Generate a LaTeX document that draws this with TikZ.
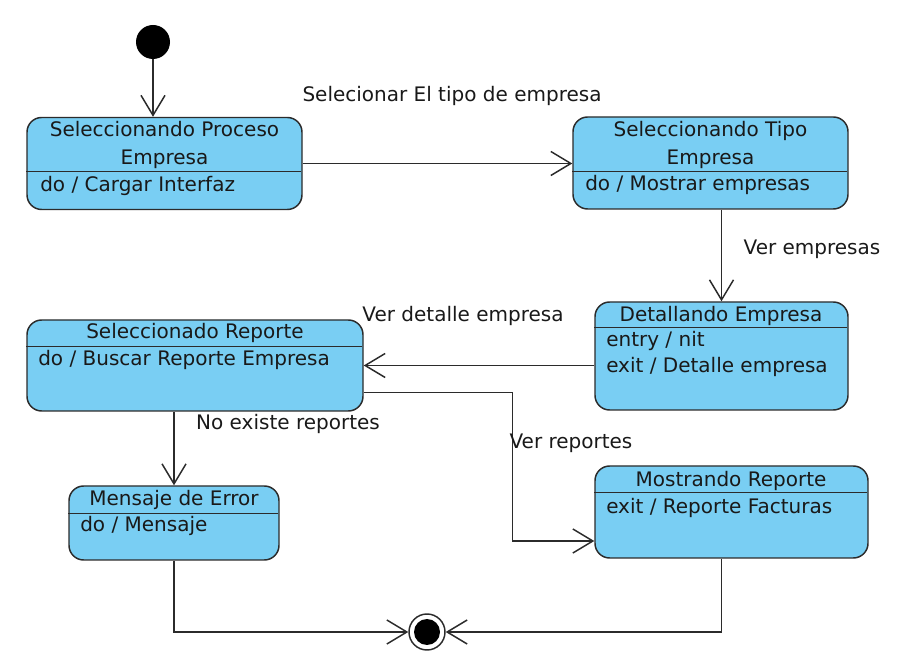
\documentclass[tikz,border=0pt]{standalone}
\usepackage{fontspec}
\setmainfont{DejaVu Sans}
\usetikzlibrary{arrows.meta,positioning,calc}
\definecolor{StateBlue}{HTML}{79CEF3}
\definecolor{EdgeGray}{HTML}{2B2B2B}

\begin{document}
\begin{tikzpicture}[x=0.75pt, y=-0.75pt,
    estado/.style={draw=EdgeGray, fill=StateBlue, line width=1.1pt, rounded corners=11pt, inner sep=0pt},
    titulo/.style={font=\fontsize{15}{21}\selectfont, align=center, inner sep=0pt, text=black!90},
    accion/.style={font=\fontsize{15}{19.5}\selectfont, align=left, anchor=west, inner sep=0pt, text=black!90},
    etiqueta/.style={font=\fontsize{15}{18}\selectfont, inner sep=0pt, text=black!90},
    trans/.style={-{Straight Barb[length=15pt, width=18pt]}, draw=EdgeGray, line width=1.1pt},
    linea/.style={draw=EdgeGray, line width=1.1pt}
  ]
    \useasboundingbox (0,0) rectangle (922,666);

    % estados
    \node[estado, minimum width=206.25pt, minimum height=69pt] (proceso) at (164.5,163.5) {};
    \node[estado, minimum width=206.25pt, minimum height=69pt] (tipo) at (710.5,163) {};
    \node[estado, minimum width=189.75pt, minimum height=81pt] (detalle) at (721.5,356) {};
    \node[estado, minimum width=252pt, minimum height=68.25pt] (reporte) at (195,365.5) {};
    \node[estado, minimum width=157.5pt, minimum height=55.5pt] (error) at (174,523) {};
    \node[estado, minimum width=204.75pt, minimum height=69pt] (mostrar) at (731.5,512) {};

    \draw[linea] (proceso.north west) ++(0,55) -- ++(275,0);
    \draw[linea] (tipo.north west) ++(0,55) -- ++(275,0);
    \draw[linea] (detalle.north west) ++(0,26) -- ++(253,0);
    \draw[linea] (reporte.north west) ++(0,27) -- ++(336,0);
    \draw[linea] (error.north west) ++(0,28) -- ++(210,0);
    \draw[linea] (mostrar.north west) ++(0,27) -- ++(273,0);

    \node[titulo] (procesoT) at (164.5,145) {Seleccionando Proceso\\Empresa};
    \node[accion] (procesoA) at (40,186) {do / Cargar Interfaz};
    \node[titulo] (tipoT) at (710.5,145) {Seleccionando Tipo\\Empresa};
    \node[accion] (tipoA) at (585,185) {do / Mostrar empresas};
    \node[titulo] (detalleT) at (721,316) {Detallando Empresa};
    \node[accion] (detalleA) at (606,354) {entry / nit\\exit / Detalle empresa};
    \node[titulo] (reporteT) at (195,333) {Seleccionado Reporte};
    \node[accion] (reporteA) at (38,360) {do / Buscar Reporte Empresa};
    \node[titulo] (errorT) at (174,500) {Mensaje de Error};
    \node[accion] (errorA) at (80,526) {do / Mensaje};
    \node[titulo] (mostrarT) at (731,481) {Mostrando Reporte};
    \node[accion] (mostrarA) at (606,508) {exit / Reporte Facturas};

    % inicio y fin
    \node[circle, fill=black, minimum size=25.5pt, inner sep=0pt] (inicio) at (153,42) {};
    \node[circle, draw=EdgeGray, fill=white, line width=1.1pt, minimum size=27pt, inner sep=0pt] (final) at (427,632) {};
    \fill[black] (final) circle[radius=9.75pt];

    % transiciones
    \draw[trans] (inicio) -- (inicio |- proceso.north);
    \draw[trans] (proceso.east) -- (proceso.east -| tipo.west);
    \draw[trans] (tipo.south -| detalle.north) -- (detalle.north);
    \draw[trans] (detalle.west |- reporte.east) -- (reporte.east);
    \draw[trans] (reporte.south -| error.north) -- (error.north);
    \draw[trans] ([yshift=-20.25pt]reporte.east) -- ++(149,0) |- ([yshift=-21.75pt]mostrar.west);
    \draw[trans] (error.south) |- (final.west);
    \draw[trans] ([xshift=-7.5pt]mostrar.south) |- (final.east);

    \node[etiqueta] (lblTipo) at (452,96) {Selecionar El tipo de empresa};
    \node[etiqueta] (lblEmpresas) at (812,249) {Ver empresas};
    \node[etiqueta] (lblDetalle) at (463,316) {Ver detalle empresa};
    \node[etiqueta] (lblNoExiste) at (288,424) {No existe reportes};
    \node[etiqueta] (lblReportes) at (571,443) {Ver reportes};
  \end{tikzpicture}
\end{document}
